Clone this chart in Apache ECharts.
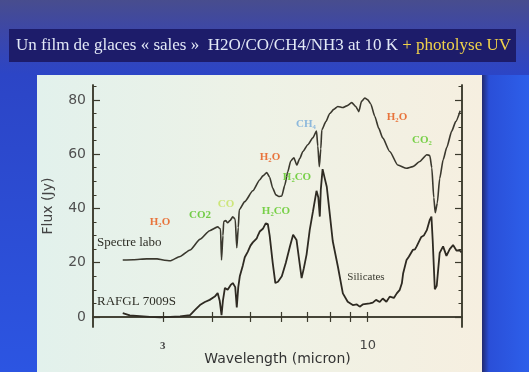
<!DOCTYPE html>
<html><head><meta charset="utf-8">
<script src="https://cdn.jsdelivr.net/npm/echarts@6/dist/echarts.min.js"></script>
<style>html,body{margin:0;padding:0;background:#2c48c8;overflow:hidden}#c{width:529px;height:372px}</style>
</head><body><div id="c"></div>
<script>
// Laboratory ice spectrum ("Spectre labo"): wavelength (micron) and flux (Jy)
const labWavelength = [2.37,2.52,2.73,2.90,3.03,3.13,3.32,3.52,3.73,3.95,4.14,4.21,4.235,4.27,4.29,4.34,4.39,4.45,4.525,4.59,4.632,4.673,4.70,4.855,5.09,5.30,5.40,5.525,5.62,5.72,5.83,5.93,6.035,6.14,6.25,6.36,6.48,6.59,6.71,6.83,7.03,7.24,7.40,7.457,7.523,7.59,7.634,7.82,8.00,8.19,8.39,8.64,8.84,9.10,9.32,9.49,9.64,9.83,10.0,10.18,10.42,10.67,10.92,11.38,11.93,12.56,13.03,13.58,14.15,14.40,14.57,14.74,14.87,15.05,15.26,15.58,15.91,16.38,16.77,17.22];
const labFlux = [21.0,21.1,21.4,21.4,20.9,20.7,22.3,24.7,28.6,31.8,33.2,32.4,21.0,30.0,35.2,35.5,34.7,35.5,36.9,36.0,25.5,33.0,39.5,42.5,46.5,50.5,52.0,53.2,51.5,47.5,45.0,44.4,44.6,48.5,53.5,57.5,58.7,56.0,58.5,61.0,63.5,66.0,68.5,63.0,55.4,62.0,69.0,72.0,75.0,76.5,77.6,77.2,77.8,79.0,77.6,75.7,79.5,80.7,80.0,78.5,74.0,69.5,66.0,61.0,56.0,54.8,55.4,57.3,59.8,59.5,55.0,44.0,38.4,42.0,51.0,58.0,62.5,68.5,72.0,76.0];
// Protostar spectrum ("RAFGL 7009S")
const astroWavelength = [2.37,2.47,2.62,2.78,2.95,3.13,3.32,3.52,3.62,3.73,3.84,3.95,4.07,4.14,4.19,4.235,4.27,4.32,4.39,4.47,4.525,4.59,4.632,4.673,4.715,4.80,4.855,4.94,5.02,5.09,5.15,5.21,5.25,5.30,5.40,5.49,5.56,5.62,5.72,5.81,5.90,6.035,6.18,6.33,6.45,6.58,6.67,6.78,6.87,6.98,7.11,7.25,7.40,7.48,7.545,7.59,7.67,7.77,7.86,8.00,8.14,8.39,8.64,8.89,9.16,9.38,9.54,9.71,9.91,10.12,10.30,10.50,10.73,10.92,11.16,11.38,11.66,11.86,12.07,12.22,12.31,12.56,12.73,13.03,13.2,13.33,13.58,13.7,13.90,14.15,14.40,14.54,14.65,14.83,15.00,15.26,15.57,15.88,16.19,16.51,16.84,17.17,17.35];
const astroFlux = [1.4,0.6,0.3,0.0,-0.1,0.0,0.2,0.7,2.5,4.4,5.5,6.3,7.5,8.8,6.0,0.7,6.0,10.7,10.0,11.8,12.5,11.0,3.5,11.0,15.0,19.0,22.0,24.0,26.3,27.5,26.8,29.0,30.2,31.5,32.5,34.5,34.2,30.0,20.0,12.5,13.0,15.0,20.0,26.0,30.3,28.4,22.0,14.3,18.0,23.0,32.0,39.0,46.5,44.0,37.0,47.0,54.5,51.0,48.0,38.0,28.0,18.6,8.7,5.6,4.4,4.6,3.8,4.6,4.8,5.0,5.3,6.3,5.5,6.8,5.6,7.5,7.0,8.7,10.0,12.4,16.0,21.0,22.2,24.7,24.9,26.0,28.4,29.5,30.0,32.0,35.8,37.0,28.0,10.2,11.5,23.6,26.0,22.5,25.0,26.5,24.5,24.5,23.8];
const yMajorTicks = [0,20,40,60,80];
const yMinorTicks = [5,10,15,25,30,35,45,50,55,65,70,75,85];
const xTickWavelengths = [3,4,5,6,7,8,9,10];
const xLabelWavelengths = [3,10];
const xRange = [1.99, 17.4];
const yRange = [-3.7, 85.5];

const lg = Math.log10;
const toPairs = (xs, ys) => xs.map((x, i) => [lg(x), ys[i]]);
const axisColor = '#3b3a2c';

const chart = echarts.init(document.getElementById('c'), null, {renderer: 'canvas'});
const xCommon = {
  type: 'value', min: lg(xRange[0]), max: lg(xRange[1]),
  axisLine: {show: true, lineStyle: {color: axisColor, width: 1.5}},
  splitLine: {show: false}
};
const yCommon = {
  type: 'value', min: yRange[0], max: yRange[1],
  axisLine: {show: true, lineStyle: {color: axisColor, width: 1.5}},
  splitLine: {show: false}
};
const annot = (t, x, y, color, size, align) => ({
  type: 'text', x: x, y: y, z: 100,
  style: {text: t, fill: color, font: 'bold ' + (size || 11) + 'px "Liberation Serif", serif', align: align || 'center', verticalAlign: 'middle'}
});
const plain = (t, x, y, color, size, align) => ({
  type: 'text', x: x, y: y, z: 100,
  style: {text: t, fill: color, font: size + 'px "Liberation Serif", serif', align: align || 'center', verticalAlign: 'middle'}
});

chart.setOption({
  animation: false,
  grid: {left: 93, top: 85, right: 67, bottom: 45, containLabel: false, outerBoundsMode: 'none'},
  xAxis: [
    Object.assign({}, xCommon, {
      position: 'bottom',
      name: 'Wavelength (micron)', nameLocation: 'middle', nameGap: 25, nameMoveOverlap: false,
      nameTextStyle: {fontFamily: 'DejaVu Sans', fontSize: 14, color: '#333'},
      axisTick: {show: true, inside: true, length: 5, customValues: xTickWavelengths.map(lg), lineStyle: {color: axisColor, width: 1.2}},
      axisLabel: {show: true, margin: 10, customValues: xLabelWavelengths.map(lg),
        formatter: v => { const w = Math.round(Math.pow(10, v)); return w === 10 ? '{n|10}' : '{s|' + w + '}'; },
        rich: {n: {fontFamily: 'DejaVu Sans', fontSize: 13, color: '#444', padding: [2, 0, 0, 0]}, s: {fontFamily: 'Liberation Serif', fontSize: 11, fontWeight: 'bold', color: '#444', padding: [4, 0, 0, 0]}}}
    }),
    Object.assign({}, xCommon, {
      position: 'top',
      axisTick: {show: true, inside: true, length: 5, customValues: xTickWavelengths.map(lg), lineStyle: {color: axisColor, width: 1.2}},
      axisLabel: {show: false}
    })
  ],
  yAxis: [
    Object.assign({}, yCommon, {
      position: 'left',
      name: 'Flux (Jy)', nameLocation: 'middle', nameGap: 38, nameRotate: 90, nameMoveOverlap: false,
      nameTextStyle: {fontFamily: 'DejaVu Sans', fontSize: 14, color: '#444'},
      axisTick: {show: true, inside: true, length: 7, customValues: yMajorTicks, lineStyle: {color: axisColor, width: 1.2}},
      axisLabel: {show: true, margin: 7, customValues: yMajorTicks, fontFamily: 'DejaVu Sans', fontSize: 14, color: '#505050'}
    }),
    Object.assign({}, yCommon, {
      position: 'left',
      axisTick: {show: true, inside: true, length: 3.5, customValues: yMinorTicks, lineStyle: {color: axisColor, width: 1}},
      axisLabel: {show: false}
    }),
    Object.assign({}, yCommon, {
      position: 'right',
      axisTick: {show: true, inside: true, length: 7, customValues: yMajorTicks, lineStyle: {color: axisColor, width: 1.2}},
      axisLabel: {show: false}
    }),
    Object.assign({}, yCommon, {
      position: 'right',
      axisTick: {show: true, inside: true, length: 3.5, customValues: yMinorTicks, lineStyle: {color: axisColor, width: 1}},
      axisLabel: {show: false}
    })
  ],
  series: [
    {name: 'Spectre labo', type: 'line', xAxisIndex: 0, yAxisIndex: 0, showSymbol: false, smooth: 0.2, smoothMonotone: 'x',
      data: toPairs(labWavelength, labFlux), lineStyle: {color: '#3a382e', width: 1.6}, z: 5},
    {name: 'RAFGL 7009S', type: 'line', xAxisIndex: 0, yAxisIndex: 0, showSymbol: false,
      data: toPairs(astroWavelength, astroFlux), lineStyle: {color: '#2e2a22', width: 1.8}, z: 6}
  ],
  graphic: [
    {type: 'rect', z: -20, shape: {x: 0, y: 0, width: 529, height: 372},
      style: {fill: new echarts.graphic.LinearGradient(0, 0, 0, 1, [
        {offset: 0, color: '#484d8e'}, {offset: 0.08, color: '#3d47a6'}, {offset: 0.2, color: '#2c45c6'}, {offset: 1, color: '#2c55e2'}])}},
    {type: 'rect', z: -19, shape: {x: 482, y: 75, width: 47, height: 297},
      style: {fill: new echarts.graphic.LinearGradient(0, 0, 1, 0, [
        {offset: 0, color: '#222a70'}, {offset: 0.15, color: '#2a4fd8'}, {offset: 1, color: '#2d5fea'}])}},
    {type: 'rect', z: -18, shape: {x: 9, y: 29, width: 507, height: 33},
      style: {fill: '#1d1c6a'}},
    {type: 'rect', z: -18, shape: {x: 37, y: 75, width: 445, height: 297},
      style: {fill: new echarts.graphic.LinearGradient(0, 0, 1, 0, [
        {offset: 0, color: '#e2f1ec'}, {offset: 0.5, color: '#eef2e6'}, {offset: 1, color: '#f6efe0'}])}},
    {type: 'text', x: 16, y: 46, z: 100,
      style: {text: '{w|Un film de glaces « sales »  H2O/CO/CH4/NH3 at 10 K }{y|+ photolyse UV}',
        verticalAlign: 'middle',
        rich: {w: {fill: '#e2e8f6', font: '17px "Liberation Serif", serif'}, y: {fill: '#f0d24a', font: '17px "Liberation Serif", serif'}}}},
    annot('H₂O', 160, 222, '#e8743c', 11),
    annot('CO2', 200, 215, '#72cc48', 11),
    annot('CO', 226, 204, '#cde67a', 11),
    annot('H₂O', 270, 157, '#e8743c', 11),
    annot('H₂CO', 297, 177, '#78d048', 11),
    annot('H₂CO', 276, 211, '#78d048', 11),
    annot('CH₄', 306, 124, '#8cb8dc', 11),
    annot('H₂O', 397, 117, '#e8743c', 11),
    annot('CO₂', 422, 140, '#78d048', 11),
    plain('Spectre labo', 97, 243, '#2e2e26', 13, 'left'),
    plain('RAFGL 7009S', 97, 302, '#2e2e26', 13, 'left'),
    plain('Silicates', 366, 277, '#3a3a30', 11)
  ]
});
</script></body></html>
